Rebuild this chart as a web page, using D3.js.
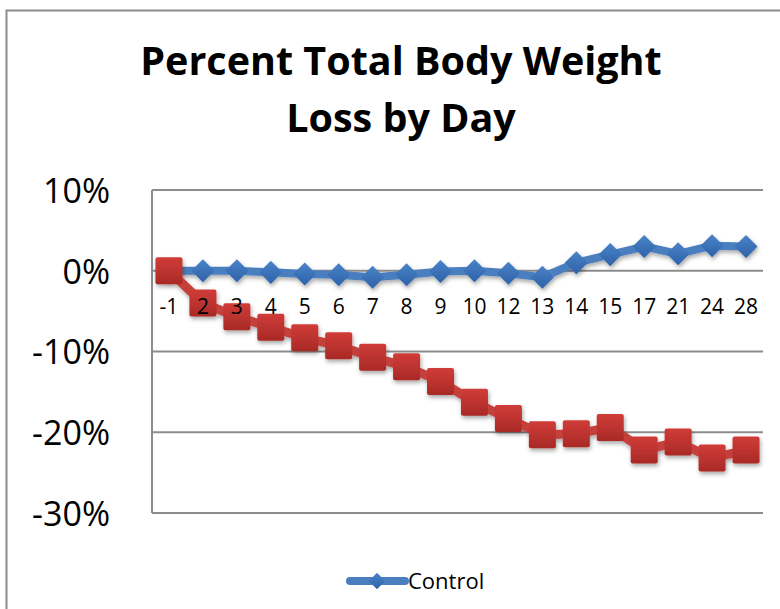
<!DOCTYPE html>
<html><head><meta charset="utf-8">
<script src="https://cdn.jsdelivr.net/npm/d3@7/dist/d3.min.js"></script>
<style>body{margin:0;background:#fff}svg{display:block}</style>
</head><body>
<script>
const days = ["-1","2","3","4","5","6","7","8","9","10","12","13","14","15","17","21","24","28"];
const control = [0,0,0,-0.2,-0.4,-0.5,-0.8,-0.5,-0.1,0,-0.3,-0.8,1.0,2.0,3.0,2.1,3.1,3.0];
const treated = [0,-4.0,-5.7,-7.0,-8.3,-9.3,-10.7,-11.9,-13.7,-16.3,-18.3,-20.3,-20.2,-19.4,-22.2,-21.2,-23.2,-22.2];
const yTicks = [10,0,-10,-20,-30];
const titleLines = ["Percent Total Body Weight","Loss by Day"];

const W=780,H=609;
const FONT="'Open Sans', sans-serif";
const svg=d3.select("body").append("svg").attr("width",W).attr("height",H);
const defs=svg.append("defs");
const f=defs.append("filter").attr("id","sh").attr("x","-50%").attr("y","-50%").attr("width","200%").attr("height","200%");
f.append("feDropShadow").attr("dx",1).attr("dy",2.5).attr("stdDeviation",2).attr("flood-color","#000").attr("flood-opacity",0.35);
const gb=defs.append("linearGradient").attr("id","gb").attr("x1",0).attr("y1",0).attr("x2",0).attr("y2",1);
gb.append("stop").attr("offset","0").attr("stop-color","#4a82c8");
gb.append("stop").attr("offset","1").attr("stop-color","#2e62a8");
const gr=defs.append("linearGradient").attr("id","gr").attr("x1",0).attr("y1",0).attr("x2",0).attr("y2",1);
gr.append("stop").attr("offset","0").attr("stop-color","#d03c38");
gr.append("stop").attr("offset","1").attr("stop-color","#a82a26");

// outer border
svg.append("path").attr("d",`M6.5,${H} V10.5 H${W}`).attr("fill","none").attr("stroke","#8c8c8c").attr("stroke-width",2);

const L=152,R=763,T=190,B=513;
const x=d3.scaleBand().domain(days).range([L,R]);
const y=d3.scaleLinear().domain([-30,10]).range([B,T]);

// title
svg.append("g").selectAll("text").data(titleLines).join("text")
  .attr("x",401).attr("y",(d,i)=>75+i*57).attr("text-anchor","middle")
  .attr("font-family",FONT).attr("font-weight","bold").attr("font-size",39.5).attr("fill","#000").text(d=>d);

// gridlines
svg.append("g").selectAll("line").data(yTicks).join("line")
  .attr("x1",L).attr("x2",R).attr("y1",d=>y(d)).attr("y2",d=>y(d))
  .attr("stroke","#8c8c8c").attr("stroke-width",2);
// left axis
svg.append("line").attr("x1",L).attr("x2",L).attr("y1",T).attr("y2",B).attr("stroke","#8c8c8c").attr("stroke-width",2);

// y labels
const yAxis=d3.axisLeft(y).tickValues(yTicks).tickSize(0).tickPadding(0).tickFormat(d=>d+"%");
const ya=svg.append("g").attr("transform",`translate(${L-42},0)`).call(yAxis);
ya.select(".domain").remove();
ya.selectAll("text").attr("font-family",FONT).attr("font-size",34).attr("fill","#000").attr("dy","0.36em");

const cx=d=>x(d)+x.bandwidth()/2;
const line=d3.line().x((d,i)=>cx(days[i])).y(d=>y(d));

// control
const gc=svg.append("g").attr("filter","url(#sh)");
gc.append("path").datum(control).attr("d",line).attr("fill","none").attr("stroke","#4a7ebf").attr("stroke-width",8).attr("stroke-linejoin","round");
gc.selectAll("path.m").data(control).join("path").attr("class","m")
  .attr("d",d3.symbol(d3.symbolDiamond2,340)).attr("transform",(d,i)=>`translate(${cx(days[i])},${y(d)})`).attr("fill","url(#gb)");

// treated
const gt=svg.append("g").attr("filter","url(#sh)");
gt.append("path").datum(treated).attr("d",line).attr("fill","none").attr("stroke","#c63f3b").attr("stroke-width",9).attr("stroke-linejoin","round");
gt.selectAll("rect").data(treated).join("rect")
  .attr("x",(d,i)=>cx(days[i])-13.5).attr("y",d=>y(d)-13.5).attr("width",27).attr("height",27).attr("rx",2).attr("fill","url(#gr)");

// x labels (drawn on top of markers)
const xAxis=d3.axisBottom(x).tickSize(0).tickPadding(0);
const xa=svg.append("g").attr("transform",`translate(0,${y(0)+36})`).call(xAxis);
xa.select(".domain").remove();
xa.selectAll("text").attr("font-family",FONT).attr("font-size",21).attr("fill","#000").attr("dy","0.36em");

// legend
const lg=svg.append("g");
lg.append("line").attr("x1",350).attr("x2",405).attr("y1",581).attr("y2",581).attr("stroke","#4a7ebf").attr("stroke-width",8).attr("stroke-linecap","round");
lg.append("path").attr("d",d3.symbol(d3.symbolDiamond2,170)).attr("transform","translate(377,581)").attr("fill","url(#gb)");
lg.append("text").attr("x",408).attr("y",581).attr("dy","0.36em").attr("font-family",FONT).attr("font-size",22).attr("fill","#000").text("Control");
</script>
</body></html>
